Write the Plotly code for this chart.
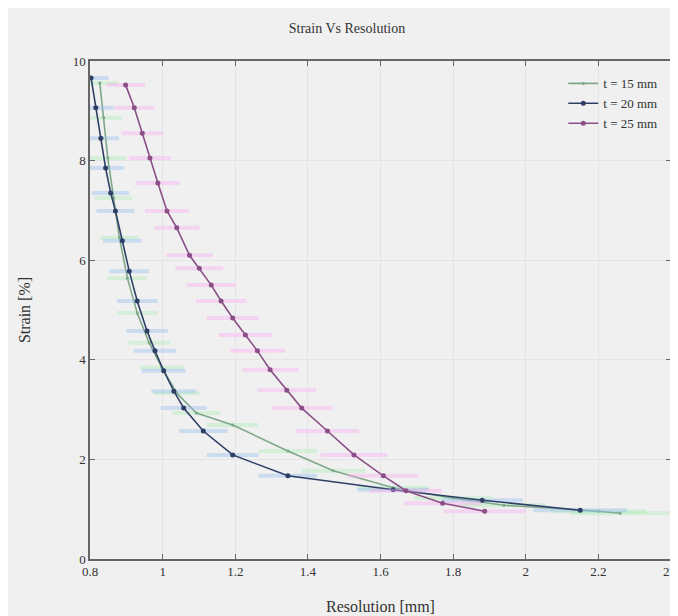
import plotly.graph_objects as go

# Strain vs resolution for three thicknesses
res_15 = [0.827, 0.838, 0.849, 0.865, 0.881, 0.903, 0.930, 0.963, 0.998, 1.039,
          1.093, 1.193, 1.345, 1.47, 1.635, 1.80, 1.94, 2.20, 2.26]
strain_15 = [9.56, 8.86, 8.05, 7.25, 6.45, 5.64, 4.94, 4.34, 3.84, 3.33,
             2.93, 2.69, 2.17, 1.77, 1.43, 1.22, 1.08, 0.96, 0.92]

res_20 = [0.803, 0.816, 0.830, 0.843, 0.857, 0.870, 0.889, 0.908, 0.930, 0.957,
          0.979, 1.003, 1.031, 1.058, 1.112, 1.193, 1.345, 1.635, 1.88, 2.15]
strain_20 = [9.66, 9.06, 8.45, 7.85, 7.35, 6.99, 6.39, 5.78, 5.18, 4.58,
             4.18, 3.78, 3.37, 3.03, 2.57, 2.09, 1.67, 1.39, 1.18, 0.98]

res_25 = [0.898, 0.922, 0.944, 0.965, 0.987, 1.012, 1.039, 1.074, 1.101, 1.134,
          1.161, 1.193, 1.228, 1.261, 1.296, 1.342, 1.383, 1.454, 1.527, 1.608,
          1.670, 1.771, 1.887]
strain_25 = [9.52, 9.06, 8.55, 8.05, 7.55, 6.99, 6.65, 6.10, 5.84, 5.50,
             5.18, 4.84, 4.50, 4.18, 3.80, 3.39, 3.03, 2.57, 2.09, 1.67,
             1.37, 1.12, 0.96]

labels = ["t = 15 mm", "t = 20 mm", "t = 25 mm"]
x_ticks = [0.8, 1, 1.2, 1.4, 1.6, 1.8, 2, 2.2, 2.4]
y_ticks = [0, 2, 4, 6, 8, 10]

serif = "Liberation Serif, Times New Roman, serif"

series = [
    (res_15, strain_15, labels[0], "#7fa88a", "rgba(170,235,180,0.4)", 3),
    (res_20, strain_20, labels[1], "#2e3f66", "rgba(150,190,240,0.4)", 5),
    (res_25, strain_25, labels[2], "#8a4f86", "rgba(250,170,240,0.4)", 5),
]

fig = go.Figure()
for x, y, name, col, band, msize in series:
    fig.add_trace(go.Scatter(
        x=x, y=y, name=name, mode="lines+markers",
        line=dict(color=col, width=1.6),
        marker=dict(color=col, size=msize),
        error_x=dict(type="percent", value=6, color=band, thickness=4, width=0),
    ))

fig.update_layout(
    width=678, height=616,
    paper_bgcolor="#f0f0f0", plot_bgcolor="#f0f0f0",
    margin=dict(l=82, r=6, t=53, b=65),
    font=dict(family=serif, size=13, color="#333"),
    title=dict(text="Strain Vs Resolution", x=0.5, xanchor="center",
               y=0.975, font=dict(family=serif, size=14, color="#333")),
    legend=dict(x=0.985, y=0.985, xanchor="right", yanchor="top",
                bgcolor="rgba(0,0,0,0)", font=dict(family=serif, size=13),
                itemwidth=30, tracegroupgap=0),
)
fig.update_xaxes(
    range=[0.8, 2.4], tickvals=x_ticks, title_text="Resolution [mm]",
    showline=True, linecolor="#666", linewidth=1.5, mirror="ticks",
    ticks="inside", ticklen=5, tickcolor="#666",
    showgrid=True, gridcolor="#e4e4e4", zeroline=False,
    ticklabeloverflow="allow", title_standoff=22,
)
fig.update_yaxes(
    range=[0, 10], tickvals=y_ticks, title_text="Strain [%]",
    showline=True, linecolor="#666", linewidth=1.5, mirror="ticks",
    ticks="inside", ticklen=5, tickcolor="#666",
    showgrid=True, gridcolor="#e4e4e4", zeroline=False,
    title_standoff=38,
)

fig.write_html("out.html")
